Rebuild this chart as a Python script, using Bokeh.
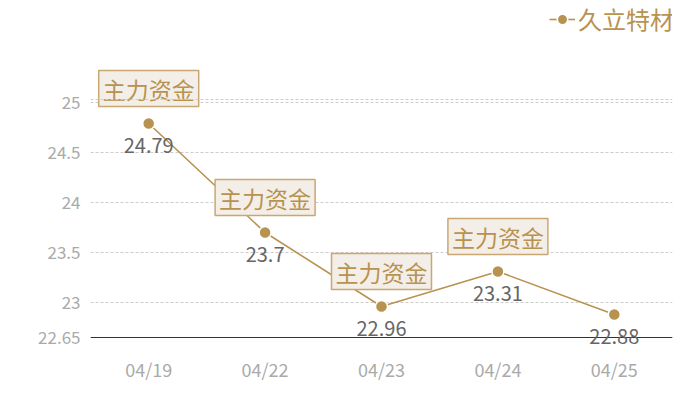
from bokeh.plotting import figure
from bokeh.models import (ColumnDataSource, FactorRange, Range1d, FixedTicker, LabelSet,
                          Span, Legend, LegendItem)
from bokeh.core.properties import value
from bokeh.embed import file_html
from bokeh.resources import INLINE

# ---- data ----
dates = ["04/19", "04/22", "04/23", "04/24", "04/25"]
prices = [24.79, 23.70, 22.96, 23.31, 22.88]
flag_dates = ["04/19", "04/22", "04/23", "04/24"]
flag_prices = [24.79, 23.70, 22.96, 23.31]
flag_text = ["主力资金", "主力资金", "主力资金", "主力资金"]
series_name = "久立特材"
y_ticks = [22.65, 23, 23.5, 24, 24.5, 25]
y_tick_labels = ["22.65", "23", "23.5", "24", "24.5", "25"]
y_min = 22.65
y_max = 25.03

GOLD = "#b8924f"
GRAY = "#aaaaaa"
CJK = "Noto Sans CJK SC"

W, H = 700, 400
frame_h = 350          # frame extends a little below the baseline so labels are not clipped
below_px = 13          # pixels between baseline (y_min) and frame bottom
px_per_unit = 100.0
y_start = y_min - below_px / px_per_unit
y_end = y_start + frame_h / px_per_unit

p = figure(width=W, height=H, output_backend="svg", toolbar_location=None,
           x_range=FactorRange(factors=dates, range_padding=0),
           y_range=Range1d(y_start, y_end),
           min_border_left=90, min_border_right=28, min_border_top=0,
           min_border_bottom=H - frame_h)
p.outline_line_color = None
p.background_fill_color = "white"
p.border_fill_color = "white"

# grid
p.xgrid.visible = False
p.ygrid.ticker = FixedTicker(ticks=y_ticks)
p.ygrid.grid_line_color = "#cccccc"
p.ygrid.grid_line_dash = "3 2"
p.ygrid.grid_line_width = 1

# axes
p.yaxis.ticker = FixedTicker(ticks=y_ticks)
p.yaxis.major_label_overrides = {t: l for t, l in zip(y_ticks, y_tick_labels)}
p.yaxis.axis_line_color = None
p.yaxis.major_tick_line_color = None
p.yaxis.minor_tick_line_color = None
p.yaxis.major_tick_out = 0
p.yaxis.major_label_standoff = 10
p.yaxis.major_label_text_color = GRAY
p.yaxis.major_label_text_font = CJK
p.yaxis.major_label_text_font_size = "17px"

p.xaxis.axis_line_color = None
p.xaxis.major_tick_line_color = None
p.xaxis.minor_tick_line_color = None
p.xaxis.major_tick_out = 0
p.xaxis.major_label_standoff = 5
p.xaxis.major_label_text_color = GRAY
p.xaxis.major_label_text_font = CJK
p.xaxis.major_label_text_font_size = "18px"

top_line = Span(location=y_max, dimension="width", line_color="#cccccc",
                line_dash="3 2", line_width=1)
p.add_layout(top_line)
base_line = Span(location=y_min, dimension="width", line_color="#333333", line_width=1)
p.add_layout(base_line)

src = ColumnDataSource(dict(x=dates, y=prices, t=[f"{v:g}" for v in prices]))
fsrc = ColumnDataSource(dict(x=flag_dates, y=flag_prices, t=flag_text))

ln = p.line("x", "y", source=src, line_color=GOLD, line_width=1.6)
sc = p.scatter("x", "y", source=src, size=12, fill_color=GOLD, line_color="white",
               line_width=1.5)

vals = LabelSet(x="x", y="y", text="t", source=src, y_offset=-22,
                text_align="center", text_baseline="middle",
                text_color="#666666", text_font=value(CJK), text_font_size=value("20px"))
p.add_layout(vals)

p.text(x="x", y="y", text="t", source=fsrc, y_offset=-17,
       text_align="center", text_baseline="bottom",
       text_color=GOLD, text_font=value(CJK), text_font_size="23px",
       background_fill_color="#f3efe8", border_line_color="#c9a772",
       border_line_width=1.5, padding=dict(left=4, right=4, top=1, bottom=1))

legend = Legend(items=[LegendItem(label=series_name, renderers=[ln, sc])],
                location=(459, frame_h - 36), orientation="horizontal",
                background_fill_alpha=0, border_line_color=None,
                padding=0, margin=0, spacing=0,
                glyph_width=26, glyph_height=28, label_standoff=3,
                label_height=34, label_width=110,
                label_text_color=GOLD, label_text_font=CJK, label_text_font_size="24px")
p.add_layout(legend, "center")

open("out.html", "w").write(file_html(p, INLINE))
